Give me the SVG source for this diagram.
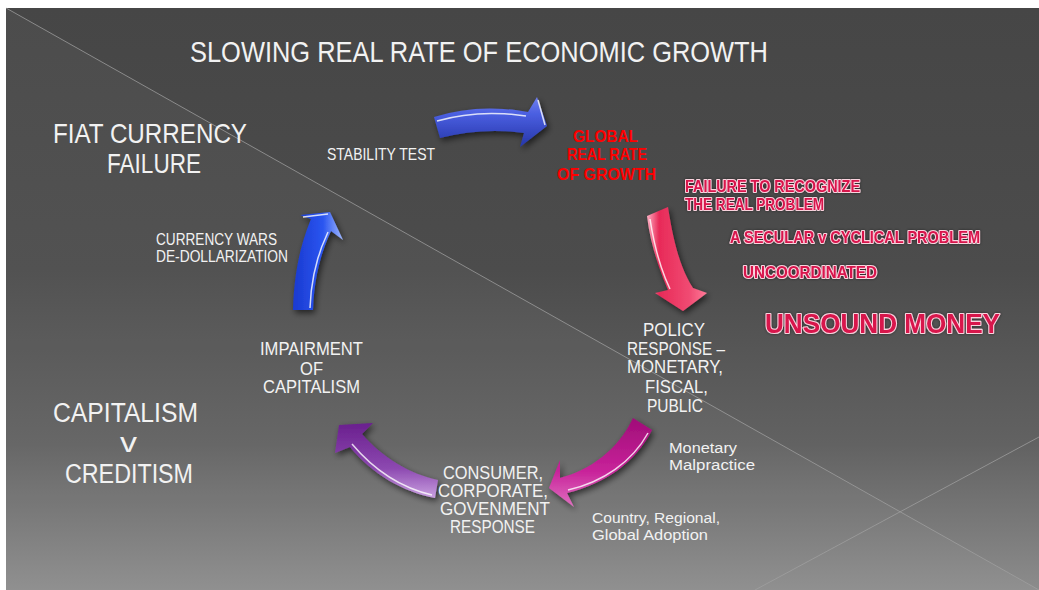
<svg xmlns="http://www.w3.org/2000/svg" width="1039" height="590" viewBox="0 0 1039 590">
<defs>
<linearGradient id="bg" x1="0" y1="0" x2="0" y2="1">
<stop offset="0" stop-color="#464646"/>
<stop offset="0.45" stop-color="#4c4c4c"/>
<stop offset="0.75" stop-color="#626262"/>
<stop offset="1" stop-color="#8c8c8c"/>
</linearGradient>
<linearGradient id="gBlueTop" x1="0" y1="0" x2="0" y2="1">
<stop offset="0" stop-color="#6f80f0"/>
<stop offset="0.35" stop-color="#4a5ee0"/>
<stop offset="1" stop-color="#2536a8"/>
</linearGradient>
<linearGradient id="gPink" x1="0" y1="0" x2="1" y2="0">
<stop offset="0" stop-color="#ffb0c4"/>
<stop offset="0.2" stop-color="#e82a58"/>
<stop offset="0.7" stop-color="#f04a72"/>
<stop offset="1" stop-color="#ff7a98"/>
</linearGradient>
<linearGradient id="gMag" x1="0" y1="0" x2="0" y2="1">
<stop offset="0" stop-color="#a00c78"/>
<stop offset="0.6" stop-color="#c8239a"/>
<stop offset="1" stop-color="#e070c0"/>
</linearGradient>
<linearGradient id="gPurple" x1="0" y1="0" x2="0" y2="1">
<stop offset="0" stop-color="#6a1f8e"/>
<stop offset="0.6" stop-color="#8c48b0"/>
<stop offset="1" stop-color="#c9a0e0"/>
</linearGradient>
<linearGradient id="gBlueLeft" x1="0" y1="0" x2="1" y2="0">
<stop offset="0" stop-color="#1a3ad0"/>
<stop offset="0.6" stop-color="#2a55f0"/>
<stop offset="1" stop-color="#a0b8ff"/>
</linearGradient>
<filter id="shadow" x="-30%" y="-30%" width="160%" height="160%">
<feGaussianBlur in="SourceAlpha" stdDeviation="3"/>
<feOffset dx="2" dy="3" result="b"/>
<feComponentTransfer><feFuncA type="linear" slope="0.6"/></feComponentTransfer>
<feMerge><feMergeNode/><feMergeNode in="SourceGraphic"/></feMerge>
</filter>
<filter id="glow" x="-10%" y="-30%" width="120%" height="160%">
<feGaussianBlur in="SourceAlpha" stdDeviation="1.5"/>
<feComponentTransfer><feFuncA type="linear" slope="0.5"/></feComponentTransfer>
<feMerge><feMergeNode/><feMergeNode in="SourceGraphic"/></feMerge>
</filter>
<style>
.t{font-family:"Liberation Sans",Arial,sans-serif;fill:#f2f2f2;}
.red{font-family:"Liberation Sans",Arial,sans-serif;font-weight:bold;fill:#ff0000;}
.pk{font-family:"Liberation Sans",Arial,sans-serif;font-weight:bold;fill:#d8124c;stroke:#fbd3de;stroke-width:2.2;paint-order:stroke;stroke-linejoin:round;}
.hl{fill:none;stroke:#ffffff;stroke-width:1.5;stroke-opacity:0.8;}
.ln{stroke:#a0a0a0;stroke-width:1;stroke-opacity:0.75;fill:none;}
</style>
</defs>

<g id="background">
<rect x="0" y="0" width="1039" height="590" fill="#ffffff"/>
<rect x="6" y="8" width="1033" height="582" fill="url(#bg)"/>
<polygon points="6,8 1039,590 6,590" fill="#ffffff" fill-opacity="0.035"/>
<line class="ln" x1="6" y1="8" x2="1039" y2="590"/>
<line class="ln" x1="755" y1="590" x2="1039" y2="437"/>
</g>

<g id="title">
<text class="t" x="190" y="62" font-size="30" textLength="578" lengthAdjust="spacingAndGlyphs">SLOWING REAL RATE OF ECONOMIC GROWTH</text>
</g>

<g id="connectors">
<g id="arrow-top" filter="url(#shadow)">
<path d="M434,117 Q478,103 528,112 L537,97 L547,126 L520,147 L524,133 Q482,127 440,138 Z" fill="url(#gBlueTop)"/>
<path class="hl" d="M437,121 Q478,109 526,116"/>
<path class="hl" d="M538,100 L545,125" stroke-opacity="0.6"/>
</g>
<g id="arrow-pink" filter="url(#shadow)">
<path d="M647,216 L668,207 C673,240 680,268 693,288 L707,293 L683,311 L655,293 L668,290 C658,266 650,242 647,216 Z" fill="url(#gPink)"/>
<path class="hl" d="M650,219 C654,245 660,268 670,289"/>
</g>
<g id="arrow-magenta" filter="url(#shadow)">
<path d="M633,418 L652,430 C636,462 605,484 567,493 L574,507 L549,488 L560,460 L560,478 C590,470 618,450 633,418 Z" fill="url(#gMag)"/>
<path class="hl" d="M648,433 C632,462 603,482 568,490" stroke-opacity="0.5"/>
</g>
<g id="arrow-purple" filter="url(#shadow)">
<path d="M438,480 L435,498 C403,492 372,474 350,447 L335,453 L339,425 L373,423 L362,434 C383,458 410,474 438,480 Z" fill="url(#gPurple)"/>
<path class="hl" d="M432,495 C402,488 374,470 352,444"/>
</g>
<g id="arrow-blue-left" filter="url(#shadow)">
<path d="M293,310 C294,275 300,245 311,219 L300,215 L330,212 L343,240 L331,231 C320,255 314,280 313,310 Z" fill="url(#gBlueLeft)"/>
<path class="hl" d="M310,308 C311,280 317,255 328,232"/>
<path class="hl" d="M303,217 L328,214"/>
</g>
</g>

<g id="node-global">
<text class="red" x="573" y="142" font-size="17" textLength="65" lengthAdjust="spacingAndGlyphs">GLOBAL</text>
<text class="red" x="567" y="160" font-size="17" textLength="80" lengthAdjust="spacingAndGlyphs">REAL RATE</text>
<text class="red" x="557" y="180" font-size="17" textLength="99" lengthAdjust="spacingAndGlyphs">OF GROWTH</text>
</g>

<g id="node-policy">
<text class="t" x="643" y="336" font-size="18" textLength="62" lengthAdjust="spacingAndGlyphs">POLICY</text>
<text class="t" x="627" y="355" font-size="18" textLength="98" lengthAdjust="spacingAndGlyphs">RESPONSE –</text>
<text class="t" x="627" y="373" font-size="18" textLength="96" lengthAdjust="spacingAndGlyphs">MONETARY,</text>
<text class="t" x="645" y="393" font-size="18" textLength="63" lengthAdjust="spacingAndGlyphs">FISCAL,</text>
<text class="t" x="647" y="412" font-size="18" textLength="56" lengthAdjust="spacingAndGlyphs">PUBLIC</text>
</g>

<g id="node-consumer">
<text class="t" x="443" y="479" font-size="18" textLength="100" lengthAdjust="spacingAndGlyphs">CONSUMER,</text>
<text class="t" x="438" y="497" font-size="18" textLength="110" lengthAdjust="spacingAndGlyphs">CORPORATE,</text>
<text class="t" x="440" y="515" font-size="18" textLength="110" lengthAdjust="spacingAndGlyphs">GOVENMENT</text>
<text class="t" x="450" y="533" font-size="18" textLength="85" lengthAdjust="spacingAndGlyphs">RESPONSE</text>
</g>

<g id="node-impairment">
<text class="t" x="260" y="355" font-size="18" textLength="103" lengthAdjust="spacingAndGlyphs">IMPAIRMENT</text>
<text class="t" x="300" y="375" font-size="18" textLength="23" lengthAdjust="spacingAndGlyphs">OF</text>
<text class="t" x="263" y="393" font-size="18" textLength="97" lengthAdjust="spacingAndGlyphs">CAPITALISM</text>
</g>

<g id="node-stability">
<text class="t" x="327" y="160" font-size="17" textLength="108" lengthAdjust="spacingAndGlyphs">STABILITY TEST</text>
</g>

<g id="label-currency-wars">
<text class="t" x="156" y="245" font-size="16" textLength="121" lengthAdjust="spacingAndGlyphs">CURRENCY WARS</text>
<text class="t" x="156" y="262" font-size="16" textLength="132" lengthAdjust="spacingAndGlyphs">DE-DOLLARIZATION</text>
</g>

<g id="label-fiat">
<text class="t" x="53" y="143" font-size="28" textLength="194" lengthAdjust="spacingAndGlyphs">FIAT CURRENCY</text>
<text class="t" x="107" y="173" font-size="28" textLength="94" lengthAdjust="spacingAndGlyphs">FAILURE</text>
</g>

<g id="label-capitalism">
<text class="t" x="53" y="422" font-size="27" textLength="145" lengthAdjust="spacingAndGlyphs">CAPITALISM</text>
<text class="t" x="120" y="452" font-size="27" textLength="17" lengthAdjust="spacingAndGlyphs">v</text>
<text class="t" x="65" y="483" font-size="27" textLength="128" lengthAdjust="spacingAndGlyphs">CREDITISM</text>
</g>

<g id="label-monetary">
<text class="t" x="669" y="453" font-size="14" textLength="68" lengthAdjust="spacingAndGlyphs">Monetary</text>
<text class="t" x="669" y="470" font-size="14" textLength="86" lengthAdjust="spacingAndGlyphs">Malpractice</text>
</g>

<g id="label-adoption">
<text class="t" x="592" y="523" font-size="14" textLength="128" lengthAdjust="spacingAndGlyphs">Country, Regional,</text>
<text class="t" x="592" y="540" font-size="14" textLength="116" lengthAdjust="spacingAndGlyphs">Global Adoption</text>
</g>

<g id="label-problems" filter="url(#glow)">
<text class="pk" x="685" y="192" font-size="16.5" textLength="175" lengthAdjust="spacingAndGlyphs">FAILURE TO RECOGNIZE</text>
<text class="pk" x="685" y="210" font-size="16.5" textLength="139" lengthAdjust="spacingAndGlyphs">THE REAL PROBLEM</text>
<text class="pk" x="730" y="243" font-size="16.5" textLength="250" lengthAdjust="spacingAndGlyphs">A SECULAR v CYCLICAL PROBLEM</text>
<text class="pk" x="743" y="278" font-size="16.5" textLength="134" lengthAdjust="spacingAndGlyphs">UNCOORDINATED</text>
<text class="pk" x="765" y="333" font-size="28" textLength="235" lengthAdjust="spacingAndGlyphs" stroke-width="2.8">UNSOUND MONEY</text>
</g>
</svg>
